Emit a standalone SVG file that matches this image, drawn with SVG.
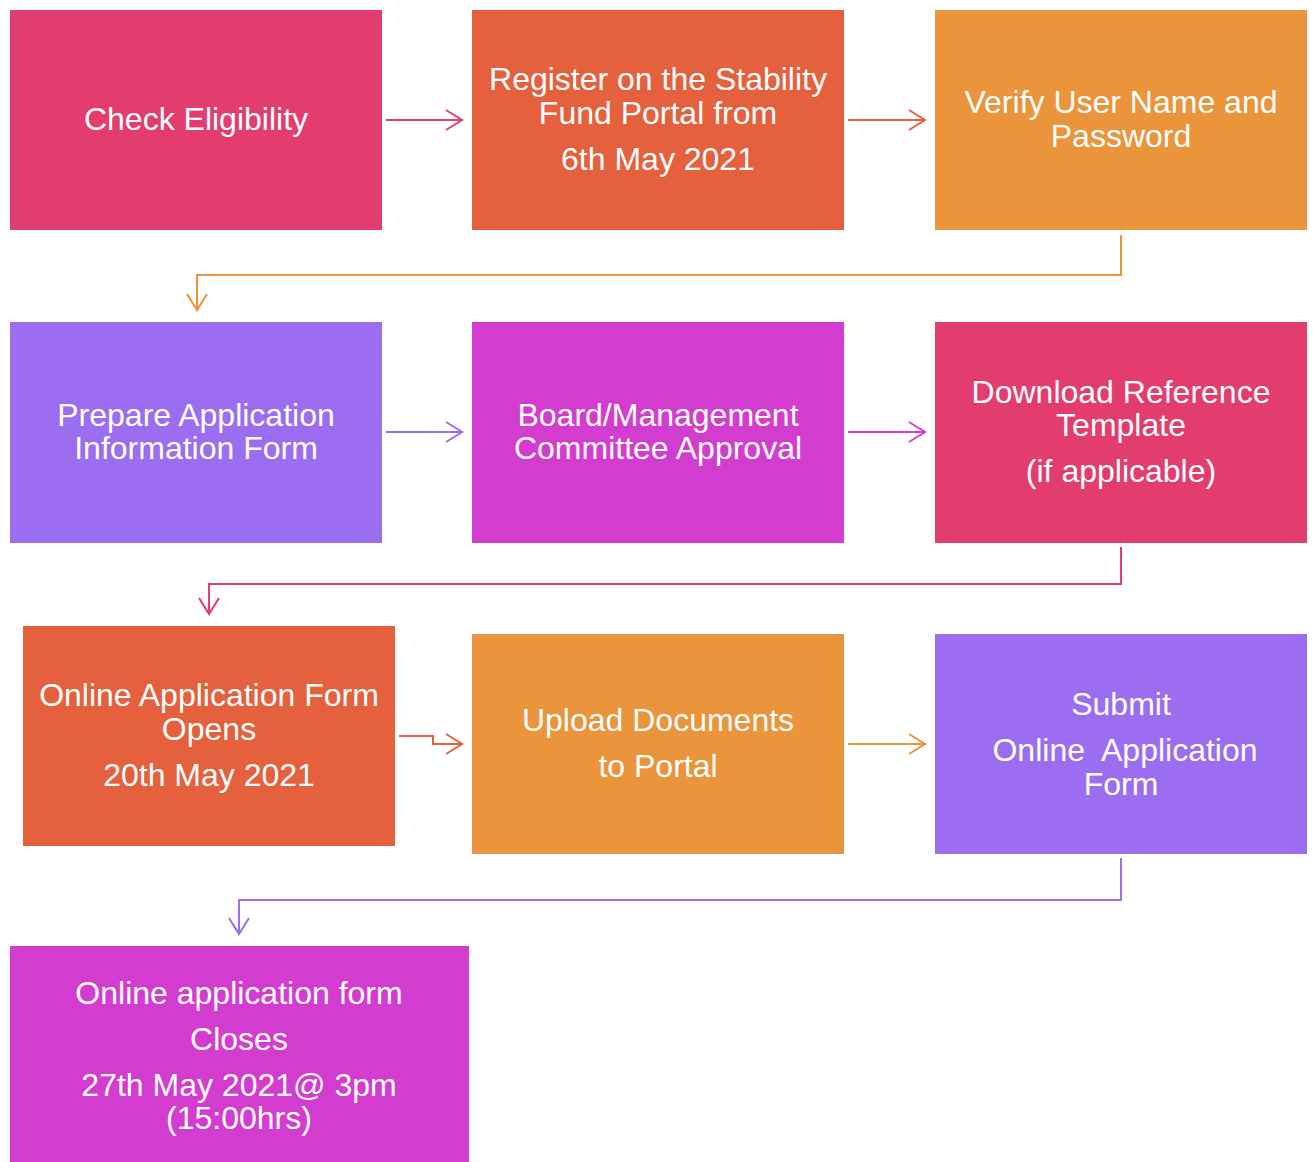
<svg xmlns="http://www.w3.org/2000/svg" width="1313" height="1162" viewBox="0 0 1313 1162">
<defs>
<style>
.t{font-family:"Liberation Sans",Arial,sans-serif;font-size:32px;fill:#fff;text-anchor:middle}
.c{fill:none;stroke-width:2}
</style>
<marker id="aPink" markerWidth="20" markerHeight="22" refX="17" refY="11" orient="auto" markerUnits="userSpaceOnUse"><path d="M1,1 L17,11 L1,21" fill="none" stroke="#E33D6F" stroke-width="2"/></marker>
<marker id="aRed" markerWidth="20" markerHeight="22" refX="17" refY="11" orient="auto" markerUnits="userSpaceOnUse"><path d="M1,1 L17,11 L1,21" fill="none" stroke="#E5603D" stroke-width="2"/></marker>
<marker id="aOr" markerWidth="20" markerHeight="22" refX="17" refY="11" orient="auto" markerUnits="userSpaceOnUse"><path d="M1,1 L17,11 L1,21" fill="none" stroke="#EA943B" stroke-width="2"/></marker>
<marker id="aPur" markerWidth="20" markerHeight="22" refX="17" refY="11" orient="auto" markerUnits="userSpaceOnUse"><path d="M1,1 L17,11 L1,21" fill="none" stroke="#9B6DF0" stroke-width="2"/></marker>
<marker id="aMag" markerWidth="20" markerHeight="22" refX="17" refY="11" orient="auto" markerUnits="userSpaceOnUse"><path d="M1,1 L17,11 L1,21" fill="none" stroke="#D33DCF" stroke-width="2"/></marker>
</defs>
<rect width="1313" height="1162" fill="#fff"/>
<g id="connectors">
<path class="c" stroke="#E33D6F" d="M386,120 H462" marker-end="url(#aPink)"/>
<path class="c" stroke="#E5603D" d="M848,120 H925" marker-end="url(#aRed)"/>
<path class="c" stroke="#EA943B" d="M1121,235 V275 H197 V310" marker-end="url(#aOr)"/>
<path class="c" stroke="#9B6DF0" d="M386,432 H462" marker-end="url(#aPur)"/>
<path class="c" stroke="#D33DCF" d="M848,432 H925" marker-end="url(#aMag)"/>
<path class="c" stroke="#E33D6F" d="M1121,547 V584 H209 V614" marker-end="url(#aPink)"/>
<path class="c" stroke="#E5603D" d="M399,736 H433 V744 H462" marker-end="url(#aRed)"/>
<path class="c" stroke="#EA943B" d="M848,744 H925" marker-end="url(#aOr)"/>
<path class="c" stroke="#9B6DF0" d="M1121,858 V900 H239 V934" marker-end="url(#aPur)"/>
</g>
<g id="n1"><rect x="10" y="10" width="372" height="220" fill="#E33D6F"/><text class="t" x="196" y="130">Check Eligibility</text></g>
<g id="n2"><rect x="472" y="10" width="372" height="220" fill="#E5603D"/><text class="t" x="658" y="90">Register on the Stability</text><text class="t" x="658" y="124">Fund Portal from</text><text class="t" x="658" y="170">6th May 2021</text></g>
<g id="n3"><rect x="935" y="10" width="372" height="220" fill="#EA943B"/><text class="t" x="1121" y="113">Verify User Name and</text><text class="t" x="1121" y="147">Password</text></g>
<g id="n4"><rect x="10" y="322" width="372" height="221" fill="#9B6DF0"/><text class="t" x="196" y="426">Prepare Application</text><text class="t" x="196" y="459">Information Form</text></g>
<g id="n5"><rect x="472" y="322" width="372" height="221" fill="#D33DCF"/><text class="t" x="658" y="426">Board/Management</text><text class="t" x="658" y="459">Committee Approval</text></g>
<g id="n6"><rect x="935" y="322" width="372" height="221" fill="#E33D6F"/><text class="t" x="1121" y="403">Download Reference</text><text class="t" x="1121" y="436">Template</text><text class="t" x="1121" y="482">(if applicable)</text></g>
<g id="n7"><rect x="23" y="626" width="372" height="220" fill="#E5603D"/><text class="t" x="209" y="706">Online Application Form</text><text class="t" x="209" y="740">Opens</text><text class="t" x="209" y="786">20th May 2021</text></g>
<g id="n8"><rect x="472" y="634" width="372" height="220" fill="#EA943B"/><text class="t" x="658" y="731">Upload Documents</text><text class="t" x="658" y="777">to Portal</text></g>
<g id="n9"><rect x="935" y="634" width="372" height="220" fill="#9B6DF0"/><text class="t" x="1121" y="715">Submit</text><text class="t" x="1125" y="761" xml:space="preserve">Online  Application</text><text class="t" x="1121" y="795">Form</text></g>
<g id="n10"><rect x="10" y="946" width="459" height="216" fill="#D33DCF"/><text class="t" x="239" y="1004">Online application form</text><text class="t" x="239" y="1050">Closes</text><text class="t" x="239" y="1096" xml:space="preserve">27th May 2021@ 3pm</text><text class="t" x="239" y="1129">(15:00hrs)</text></g>
</svg>
